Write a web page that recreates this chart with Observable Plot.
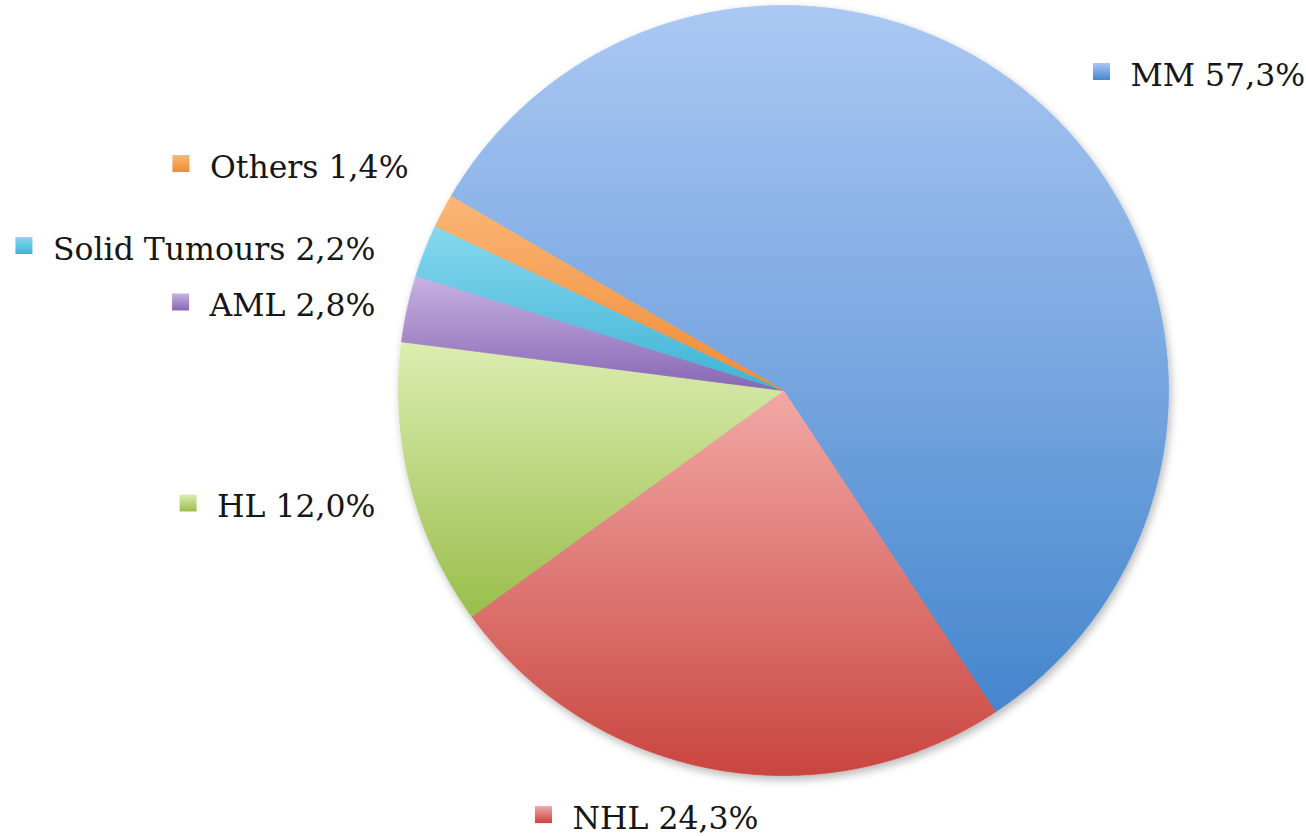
<!DOCTYPE html>
<html>
<head>
<meta charset="utf-8">
<script src="https://cdn.jsdelivr.net/npm/d3@7"></script>
<script src="https://cdn.jsdelivr.net/npm/@observablehq/plot@0.6"></script>
<style>
  html, body { margin: 0; padding: 0; background: #ffffff; }
  #chart svg { display: block; }
</style>
</head>
<body>
<div id="chart"></div>
<script>
// ---- data ----
const categories = ["MM", "NHL", "HL", "AML", "Solid Tumours", "Others"];
const shares = [57.3, 24.3, 12.0, 2.8, 2.2, 1.4];
const colorTop = ["#abc8f3", "#f2a8a6", "#dcedb1", "#c8b2e2", "#86d7ef", "#fbb676"];
const colorBottom = ["#4586cd", "#c9453f", "#99be4c", "#8766b3", "#3fb3d5", "#ef8c36"];

// ---- layout ----
const W = 1306, H = 836;
const cx = 783, cy = 390, R = 385;           // pie centre and radius in px
const startDeg = -59.7;                       // where the first slice begins (clockwise from 12 o'clock)
const fontSize = 31.5;
const fontFamily = '"DejaVu Serif", "Liberation Serif", serif';
const labelRadius = 1.15;
// label placement tweaks (px): [dx, dy, alignment 0=start .5=middle 1=end]
const labelTweak = [[42.6, 6.5, 0], [-38.7, -7.5, 0.5], [21, 6.8, 1], [24.6, 9.8, 1], [4.5, 19.9, 1], [16.8, -16.6, 1]];

const rows = categories.map((name, i) => ({
  name, share: shares[i], idx: i,
  label: `${name} ${shares[i].toFixed(1).replace(".", ",")}%`,
  grad: `url(#grad${i})`
}));

const arcs = d3.pie().sort(null).value(d => d.share)
  .startAngle(startDeg * Math.PI / 180)
  .endAngle(startDeg * Math.PI / 180 + 2 * Math.PI)(rows);

// polygon outline of each slice, in units of the pie radius
const slicePts = [];
for (const a of arcs) {
  const n = Math.max(2, Math.ceil((a.endAngle - a.startAngle) / (0.4 * Math.PI / 180)));
  slicePts.push({name: a.data.name, grad: a.data.grad, x: 0, y: 0});
  for (let k = 0; k <= n; k++) {
    const t = a.startAngle + (a.endAngle - a.startAngle) * k / n;
    slicePts.push({name: a.data.name, grad: a.data.grad, x: Math.sin(t), y: Math.cos(t)});
  }
  slicePts.push({name: a.data.name, grad: a.data.grad, x: 0, y: 0});
}

// labels
const ctx = document.createElement("canvas").getContext("2d");
ctx.font = `${fontSize}px ${fontFamily}`;
const toX = px => (px - cx) / R, toY = py => (cy - py) / R;
const labels = arcs.map((a, i) => {
  const mid = (a.startAngle + a.endAngle) / 2;
  const ax = cx + R * labelRadius * Math.sin(mid);
  const ay = cy - R * labelRadius * Math.cos(mid);
  const [dx, dy, align] = labelTweak[i];
  const w = ctx.measureText(a.data.label).width;
  const textStart = ax + dx - align * w;
  const ty = ay + dy;
  return {
    label: a.data.label, grad: a.data.grad,
    tx: toX(textStart), ty: toY(ty),
    mx: toX(textStart - 29), my: toY(ty - 4)
  };
});

const chart = Plot.plot({
  width: W, height: H, margin: 0,
  x: {domain: [toX(0), toX(W)], axis: null},
  y: {domain: [toY(H), toY(0)], axis: null},
  color: {type: "identity"},
  style: {background: "#ffffff", overflow: "visible"},
  marks: [
    Plot.line(slicePts, {x: "x", y: "y", z: "name", fill: "grad", stroke: "grad", strokeWidth: 0.8, curve: "linear"}),
    Plot.dot(labels, {x: "mx", y: "my", symbol: "square", r: 9.6, fill: "grad", stroke: "none"}),
    Plot.text(labels, {x: "tx", y: "ty", text: "label", textAnchor: "start", lineAnchor: "middle",
      fontSize, fontFamily, fill: "#161616"})
  ]
});

const svg = d3.select(chart);
const defs = svg.insert("defs", ":first-child");
rows.forEach((r, i) => {
  const g = defs.append("linearGradient").attr("id", `grad${i}`)
    .attr("x1", 0).attr("y1", 0).attr("x2", 0).attr("y2", 1);
  g.append("stop").attr("offset", "0%").attr("stop-color", colorTop[i]);
  g.append("stop").attr("offset", "100%").attr("stop-color", colorBottom[i]);
});
const f = defs.append("filter").attr("id", "pieShadow")
  .attr("x", "-10%").attr("y", "-10%").attr("width", "120%").attr("height", "120%");
f.append("feDropShadow").attr("dx", 2).attr("dy", 4).attr("stdDeviation", 4)
  .attr("flood-color", "#000").attr("flood-opacity", 0.28);
svg.select('g[aria-label="line"]').attr("filter", "url(#pieShadow)");

document.getElementById("chart").appendChild(chart);
</script>
</body>
</html>
